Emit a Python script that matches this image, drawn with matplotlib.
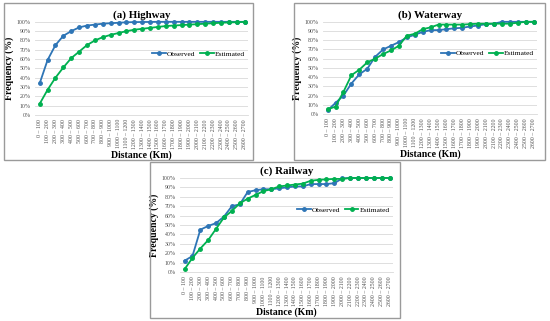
import matplotlib.pyplot as plt
import numpy as np
from matplotlib.patches import Rectangle
from matplotlib.ticker import PercentFormatter

plt.rcParams["font.family"] = ["Liberation Serif", "DejaVu Serif"]

bins = [f"{i * 100} \u2013 {(i + 1) * 100}" for i in range(27)]

highway_obs = [34, 59, 75, 85, 90, 94, 96, 97, 98, 98.5, 99, 99.5, 99.7, 99.8,
               99.9, 100, 100, 100, 100, 100, 100, 100, 100, 100, 100, 100, 100]
highway_est = [12, 27, 40, 51, 61, 68, 75, 80, 83.5, 86, 88, 90, 91.5, 92.5,
               93.5, 94.5, 95.5, 96, 96.5, 97, 97.5, 98, 98.5, 99, 99.3, 99.6, 100]

waterway_obs = [4, 12, 20, 33, 43, 49, 62, 70, 74, 78, 83, 86, 89, 91, 91, 92,
                93, 93.5, 95, 96, 97.5, 98, 100, 100, 100, 100, 100]
waterway_est = [5, 8, 24, 42, 48, 56, 60, 65, 69, 74, 85, 87, 92, 94, 97, 97,
                97, 97, 97.5, 98, 98, 98, 98, 98, 99, 100, 100]

railway_obs = [12, 17, 45, 49, 52, 59, 70, 72, 85, 87, 88, 88, 89, 90, 91, 91,
               93.5, 93.5, 93.5, 94.5, 99.5, 100, 100, 100, 100, 100, 100]
railway_est = [3, 15, 25, 34, 46, 58, 65, 73, 78, 82, 86, 88, 91, 92, 93, 94,
               97, 98, 98.5, 99, 99, 100, 100, 100, 100, 100, 100]

BLUE = "#2e75b6"
GREEN = "#00b050"


def draw_panel(fig, rect, box, title, obs, est):
    fig.patches.append(Rectangle(box[:2], box[2], box[3], transform=fig.transFigure,
                                 fill=False, edgecolor="#9a9a9a", linewidth=1.0))
    ax = fig.add_axes(rect)
    x = np.arange(len(bins))
    ax.plot(x, obs, color=BLUE, marker="o", markersize=2.5, linewidth=1.3,
            label="Observed", clip_on=False, zorder=3)
    ax.plot(x, est, color=GREEN, marker="o", markersize=2.5, linewidth=1.3,
            label="Estimated", clip_on=False, zorder=3)
    ax.set_xlim(-0.6, 26.4)
    ax.set_ylim(0, 100)
    ax.set_yticks(np.arange(0, 101, 10))
    ax.yaxis.set_major_formatter(PercentFormatter(decimals=0))
    ax.set_xticks(x)
    ax.set_xticklabels(bins, rotation=90)
    ax.tick_params(axis="both", length=0, labelsize=4.2, colors="#505050", pad=3)
    ax.grid(axis="y", color="#d9d9d9", linewidth=0.6)
    ax.set_axisbelow(True)
    for s in ["top", "right", "left"]:
        ax.spines[s].set_visible(False)
    ax.spines["bottom"].set_color("#d9d9d9")
    ax.spines["bottom"].set_linewidth(0.6)
    ax.set_title(title, fontsize=7.8, fontweight="bold", pad=3)
    ax.set_xlabel("Distance (Km)", fontsize=7, fontweight="bold", labelpad=1)
    ax.set_ylabel("Frequency (%)", fontsize=7, fontweight="bold", labelpad=2)
    ax.legend(loc="center right", bbox_to_anchor=(1.0, 0.66), ncol=2, frameon=False,
              fontsize=5.4, handlelength=1.8, columnspacing=0.6, handletextpad=0.15,
              borderaxespad=0.0)
    return ax


fig = plt.figure(figsize=(5.5, 3.21), dpi=100)

draw_panel(fig, [0.0636, 0.642, 0.387, 0.290], [0.008, 0.502, 0.452, 0.49],
           "(a) Highway", highway_obs, highway_est)
draw_panel(fig, [0.587, 0.645, 0.389, 0.287], [0.535, 0.502, 0.456, 0.49],
           "(b) Waterway", waterway_obs, waterway_est)
draw_panel(fig, [0.327, 0.1526, 0.387, 0.293], [0.273, 0.01, 0.455, 0.485],
           "(c) Railway", railway_obs, railway_est)

fig.savefig("out.png", dpi=100)
